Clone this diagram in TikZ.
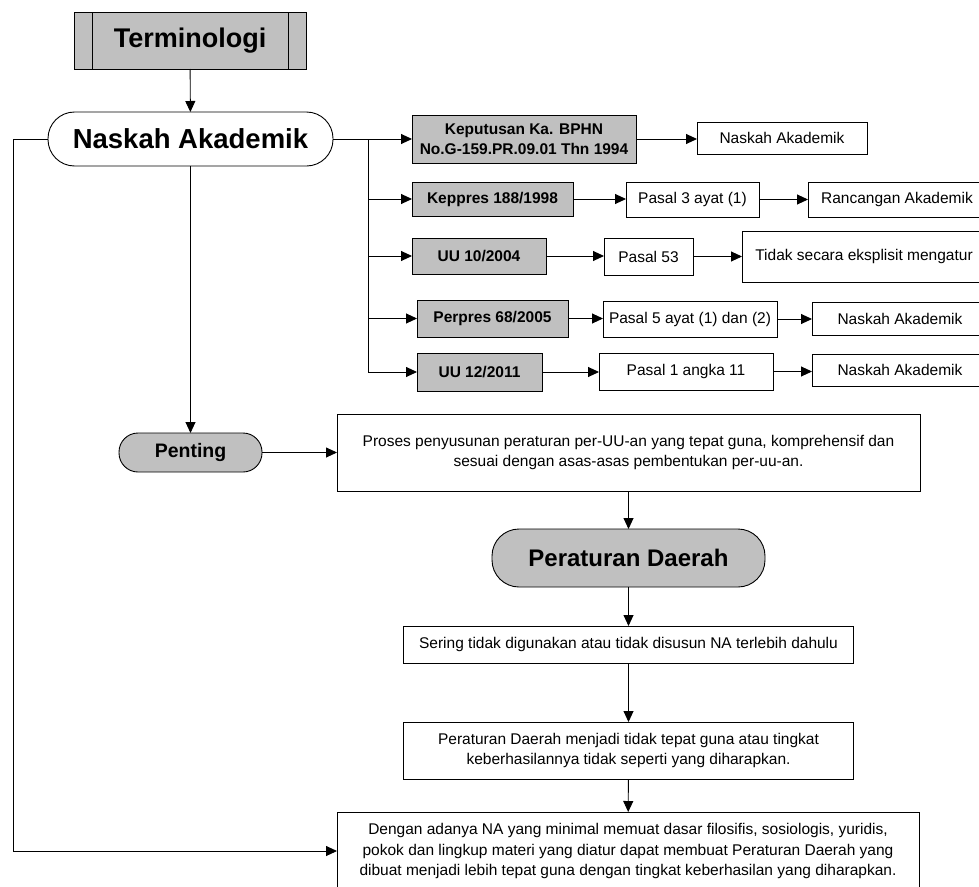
\documentclass[tikz,border=0pt]{standalone}
\usepackage{fontspec}
\setmainfont{Liberation Sans}
\usetikzlibrary{arrows.meta}
\definecolor{boxgray}{RGB}{192,192,192}
\begin{document}
\begin{tikzpicture}[x=1pt,y=-1pt,
  line width=0.9pt,
  every node/.style={inner sep=0pt, outer sep=0pt, align=center},
  gbox/.style={draw, fill=boxgray, font=\bfseries\fontsize{15.5}{20}\selectfont},
  wbox/.style={draw, fill=white, font=\fontsize{15.5}{20.5}\selectfont},
  arr/.style={-{Triangle[length=11pt,width=10pt]}}]
\useasboundingbox (0,0) rectangle (979,886);
\clip (0,0) rectangle (979,886);

% top
\node[draw, fill=boxgray, minimum width=232pt, minimum height=57pt,
      font=\bfseries\fontsize{27}{32}\selectfont] (term) at (190,40.5) {Terminologi};
\draw ([xshift=18pt]term.north west) -- ([xshift=18pt]term.south west);
\draw ([xshift=-18pt]term.north east) -- ([xshift=-18pt]term.south east);

\node[draw, fill=white, rounded corners=26.5pt, minimum width=285pt, minimum height=54pt,
      font=\bfseries\fontsize{27.5}{32}\selectfont] (na) at (190.5,139) {Naskah Akademik};

% rows
\node[gbox, minimum width=224pt, minimum height=48pt] (kep) at (524,139) {Keputusan Ka. BPHN\\No.G-159.PR.09.01 Thn 1994};
\node[wbox, minimum width=170pt, minimum height=32pt] (nk1) at (782,138) {Naskah Akademik};

\node[gbox, minimum width=161pt, minimum height=34pt] (kp) at (492.5,199) {Keppres 188/1998};
\node[wbox, minimum width=133pt, minimum height=35pt] (p3) at (692.5,199.5) {Pasal 3 ayat (1)};
\node[wbox, minimum width=178pt, minimum height=35pt] (ra) at (897,199.5) {Rancangan Akademik};

\node[gbox, minimum width=134pt, minimum height=36pt] (uu10) at (479,256) {UU 10/2004};
\node[wbox, minimum width=89pt, minimum height=37pt] (p53) at (648.5,256.5) {Pasal 53};
\node[wbox, minimum width=244pt, minimum height=51pt] (td) at (864,256.5) {Tidak secara eksplisit mengatur};

\node[gbox, minimum width=151pt, minimum height=37pt] (pp) at (492.5,318.5) {Perpres 68/2005};
\node[wbox, minimum width=174pt, minimum height=36pt] (p5) at (690,319) {Pasal 5 ayat (1) dan (2)};
\node[wbox, minimum width=176pt, minimum height=33pt] (nk4) at (900,318.5) {Naskah Akademik};

\node[gbox, minimum width=125pt, minimum height=38pt] (uu12) at (479.5,372) {UU 12/2011};
\node[wbox, minimum width=174pt, minimum height=37pt] (p1) at (686,371.5) {Pasal 1 angka 11};
\node[wbox, minimum width=176pt, minimum height=32pt] (nk5) at (900,370) {Naskah Akademik};

% lower part
\node[draw, fill=boxgray, rounded corners=19pt, minimum width=143pt, minimum height=39pt,
      font=\bfseries\fontsize{19.5}{24}\selectfont] (pent) at (190.5,452.5) {Penting};
\node[wbox, minimum width=583pt, minimum height=77pt] (proses) at (628.5,452.5)
  {Proses penyusunan peraturan per-UU-an yang tepat guna, komprehensif dan\\sesuai dengan asas-asas pembentukan per-uu-an.};
\node[draw, fill=boxgray, rounded corners=27pt, minimum width=273pt, minimum height=58pt,
      font=\bfseries\fontsize{24}{28}\selectfont] (pd) at (628.5,558) {Peraturan Daerah};
\node[wbox, minimum width=450pt, minimum height=37pt] (sering) at (628.5,644.5)
  {Sering tidak digunakan atau tidak disusun NA terlebih dahulu};
\node[wbox, minimum width=450pt, minimum height=57pt] (pdm) at (628.5,750.5)
  {Peraturan Daerah menjadi tidak tepat guna atau tingkat\\keberhasilannya tidak seperti yang diharapkan.};
\node[wbox, minimum width=582pt, minimum height=78pt] (dengan) at (628,851)
  {Dengan adanya NA yang minimal memuat dasar filosifis, sosiologis, yuridis,\\pokok dan lingkup materi yang diatur dapat membuat Peraturan Daerah yang\\dibuat menjadi lebih tepat guna dengan tingkat keberhasilan yang diharapkan.};

% connectors
\coordinate (br) at (368,139);
\coordinate (lft) at (13,139);
\draw[arr] (term) -- (na);
\draw[arr] (na.east) -- (kep.west);
\draw (br) -- (br |- uu12.west);
\draw[arr] (br) |- (kp.west);
\draw[arr] (br) |- (uu10.west);
\draw[arr] (br) |- (pp.west);
\draw[arr] (br) |- (uu12.west);

\draw[arr] (kep.east) -- (kep.east -| nk1.west);
\draw[arr] (kp.east) -- (kp.east -| p3.west);
\draw[arr] (p3.east) -- (p3.east -| ra.west);
\draw[arr] (uu10.east) -- (uu10.east -| p53.west);
\draw[arr] (p53.east) -- (p53.east -| td.west);
\draw[arr] (pp.east) -- (pp.east -| p5.west);
\draw[arr] (p5.east) -- (p5.east -| nk4.west);
\draw[arr] (uu12.east) -- (uu12.east -| p1.west);
\draw[arr] (p1.east) -- (p1.east -| nk5.west);

\draw[arr] (na.south) -- (pent.north);
\draw[arr] (pent.east) -- (proses.west);
\draw[arr] (proses.south) -- (pd.north);
\draw[arr] (pd) -- (sering);
\draw[arr] (sering) -- (pdm);
\draw[arr] (pdm) -- (dengan);
\draw[arr] (na.west) -- (lft) |- (dengan.west);
\end{tikzpicture}
\end{document}
